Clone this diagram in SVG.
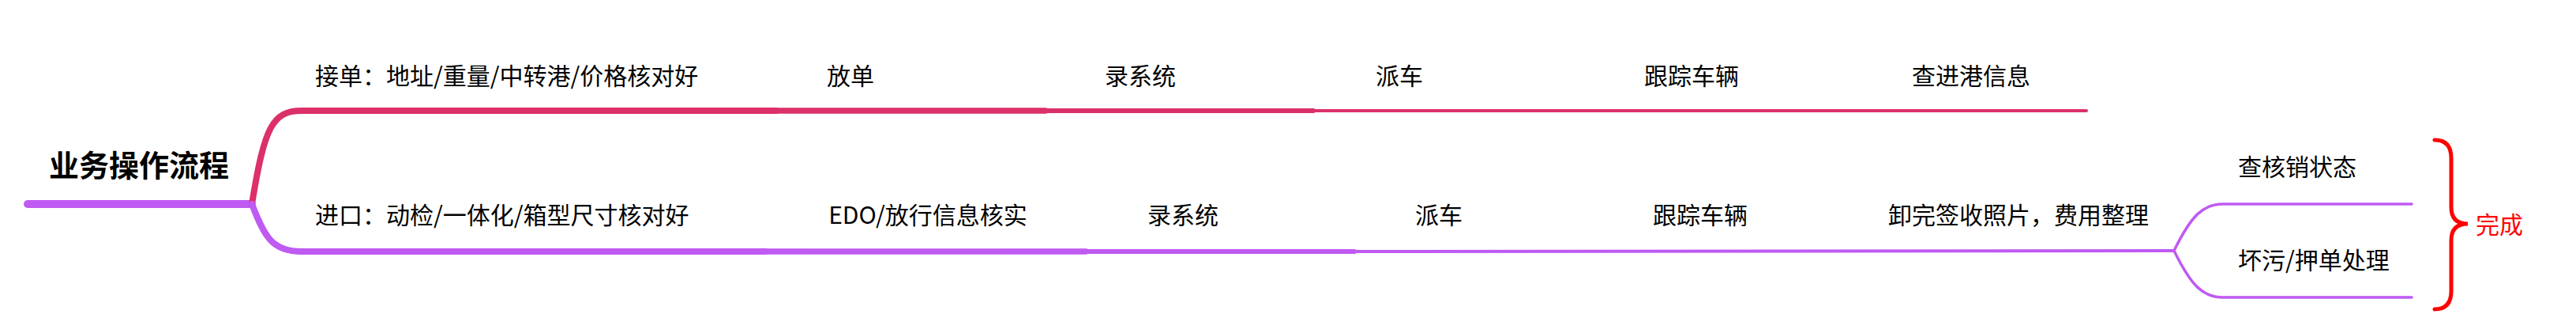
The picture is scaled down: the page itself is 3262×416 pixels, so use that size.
<svg xmlns="http://www.w3.org/2000/svg" width="3262" height="416" viewBox="0 0 3262 416">
<style>
text{font-family:"Noto Sans CJK SC","Microsoft YaHei",sans-serif;font-size:30px;fill:#000}
.root{font-size:38px;font-weight:bold}
.p{stroke:#DC3068;fill:none;stroke-linecap:round}
.v{stroke:#BF5AF2;fill:none;stroke-linecap:round}
.m{text-anchor:middle}
</style>
<rect width="3262" height="416" fill="#fff"/>
<g id="connectors">
<path class="v" stroke-width="10" d="M35,258 L319,258"/>
<path class="p" stroke-width="8" d="M319,258 C335,160 345,140 382,140 L983,140"/>
<path class="p" stroke-width="7.5" stroke-linecap="butt" d="M983,140 L1324,140"/>
<path class="p" stroke-width="6" stroke-linecap="butt" d="M1324,140 L1663,140"/>
<path class="p" stroke-width="4" d="M1663,140 L2642,140"/>
<path class="v" stroke-width="8" d="M319,258 C335,300 345,318 382,318 L969,318"/>
<path class="v" stroke-width="7.5" stroke-linecap="butt" d="M969,318 L1375,318"/>
<path class="v" stroke-width="6" stroke-linecap="butt" d="M1375,318 L1715,318"/>
<path class="v" stroke-width="4" d="M1715,318 L2753,317"/>
<path class="v" stroke-width="3.5" d="M2753,317 C2775,272 2790,258 2815,258 L3054,258"/>
<path class="v" stroke-width="3.5" d="M2753,317 C2775,362 2790,376 2815,376 L3054,376"/>
<path stroke="#FF0000" stroke-width="5" fill="none" stroke-linecap="round" d="M3083,177 Q3104,177 3104,200 L3104,262 Q3104,283 3125,283 Q3104,283 3104,304 L3104,368 Q3104,391 3083,391"/>
</g>
<g id="root"><text class="root" x="62" y="223">业务操作流程</text></g>
<g id="n1"><text x="399" y="107">接单：地址/重量/中转港/价格核对好</text></g>
<g id="n2"><text class="m" x="1077" y="107">放单</text></g>
<g id="n3"><text class="m" x="1444" y="107">录系统</text></g>
<g id="n4"><text class="m" x="1772" y="107">派车</text></g>
<g id="n5"><text class="m" x="2142" y="107">跟踪车辆</text></g>
<g id="n6"><text class="m" x="2496" y="107">查进港信息</text></g>
<g id="m1"><text x="399" y="283">进口：动检/一体化/箱型尺寸核对好</text></g>
<g id="m2"><text class="m" x="1175" y="283">EDO/放行信息核实</text></g>
<g id="m3"><text class="m" x="1498" y="283">录系统</text></g>
<g id="m4"><text class="m" x="1822" y="283">派车</text></g>
<g id="m5"><text class="m" x="2153" y="283">跟踪车辆</text></g>
<g id="m6"><text class="m" x="2556" y="283">卸完签收照片，费用整理</text></g>
<g id="s1"><text x="2834" y="222">查核销状态</text></g>
<g id="s2"><text x="2834" y="340">坏污/押单处理</text></g>
<g id="done"><text x="3135" y="295" fill="#FF0000" style="fill:#FF0000">完成</text></g>
</svg>
